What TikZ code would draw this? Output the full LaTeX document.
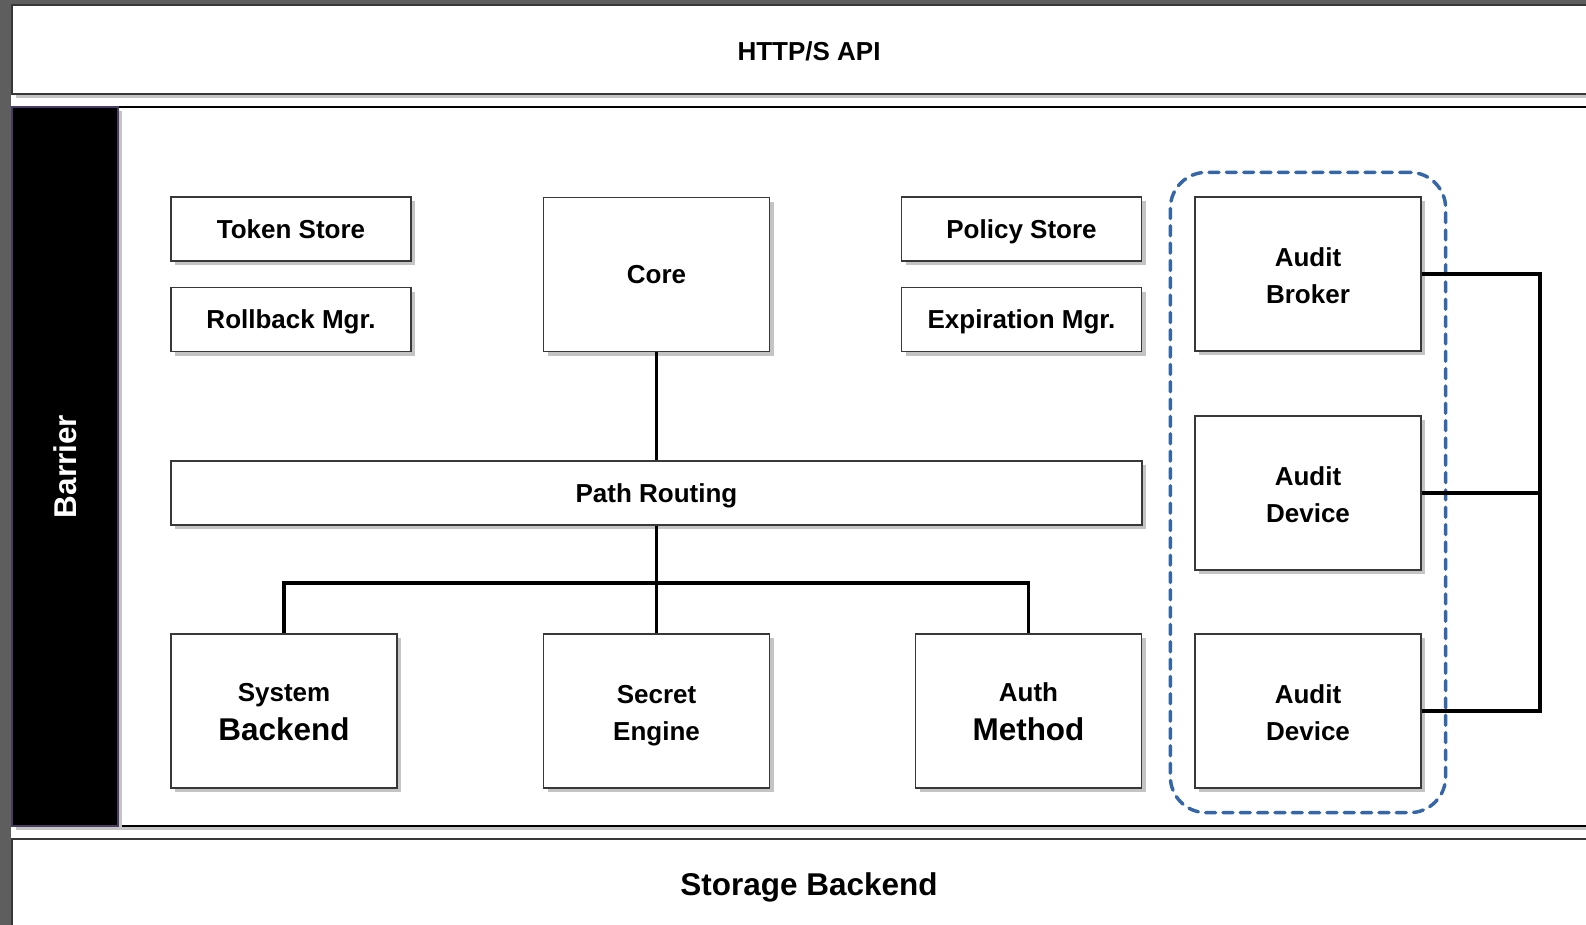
\documentclass[tikz,border=0pt]{standalone}
\usepackage{fontspec}
\setmainfont{Liberation Sans}
\usetikzlibrary{shadows,fit}

\definecolor{framegray}{HTML}{5E5E5E}
\definecolor{edgegray}{HTML}{383838}
\definecolor{shadegray}{HTML}{C4C4C4}
\definecolor{auditblue}{HTML}{3566A8}
\definecolor{barrierpurple}{HTML}{4A3B63}

\newcommand\compfont{\fontsize{19.5}{27.75}\selectfont\bfseries}
\newcommand\bigcompfont{\fontsize{23.6}{27}\selectfont\bfseries}
% struts that keep the caps centred in a box
\newcommand\topstrut{\rule[0pt]{0pt}{18.5pt}}
\newcommand\botstrut{\rule[-4.5pt]{0pt}{0pt}}
\newcommand\bigstrut{\rule[-5pt]{0pt}{26.9pt}}

\tikzset{every picture/.style={line width=0.75pt}}
\tikzset{
  dropshade/.style={general shadow={shadow xshift=3pt, shadow yshift=-3pt, fill=shadegray}},
  comp/.style={draw=edgegray, line width=1pt, fill=white, inner sep=0pt, align=center, font=\compfont, dropshade,
    execute at begin node=\topstrut, execute at end node=\botstrut},
  smallbox/.style={comp, minimum width=180pt, minimum height=48pt},
  tallbox/.style={comp, minimum width=169.5pt, minimum height=115.5pt, text height=44.4pt, text depth=0pt},
  layer/.style={draw=edgegray, line width=1.5pt, fill=white, inner sep=0pt, dropshade},
  link/.style={line width=2.8pt},
  auditgroup/.style={draw=auditblue, line width=2.6pt, line cap=round, dash pattern=on 7.5pt off 5.5pt, rounded corners=27pt, inner sep=18pt}
}

\begin{document}
\begin{tikzpicture}[x=0.75pt,y=0.75pt,yscale=-1,xscale=1]
	\useasboundingbox (0,0) rectangle (1586,925);
	\clip (0,0) rectangle (1586,925);
	\fill[white] (0,0) rectangle (1586,925);
	%Frame strips
	\fill[framegray] (0,0) rectangle (11,925);
	\fill[framegray] (0,0) rectangle (1586,4);
	
	%Layers
	\node[layer, minimum width=1195.5pt, minimum height=66.75pt, font=\compfont] (http) at (809,49.5) {\rule{0pt}{21.5pt}HTTP/S API\botstrut};
	\draw[layer, line width=1pt, draw=black] (118,107) rectangle (1606,826);
	\node[layer, fill=black, draw=barrierpurple, line width=1pt, rotate=90, minimum width=539.25pt, minimum height=79.5pt, text=white, font=\bigcompfont] (barrier) at (65,466.5) {Barrier};
	\node[layer, minimum width=1195.5pt, minimum height=67.5pt, font=\bigcompfont] (storage) at (809,884) {\bigstrut Storage Backend};
	
	%Stores and managers
	\node[smallbox] (tokenstore) at (291,229) {Token Store};
	\node[smallbox] (rollback) at (291,319.5) {Rollback Mgr.};
	\node[comp, minimum width=169.5pt, minimum height=115.5pt] (core) at (656.5,274.5) {Core};
	\node[smallbox] (policystore) at (1021.5,229) {Policy Store};
	\node[smallbox] (expiration) at (1021.5,319.5) {Expiration Mgr.};
	
	%Routing and backends
	\node[comp, minimum width=728.25pt, minimum height=48pt] (routing) at (656.5,493) {Path Routing};
	\node[tallbox] (system) at (284,711) {System\\[1.5pt]{\bigcompfont Backend}};
	\node[tallbox] (secret) at (656.5,711) {Secret\\Engine};
	\node[tallbox] (auth) at (1028.5,711) {Auth\\[1.5pt]{\bigcompfont Method}};
	
	%Audit
	\node[tallbox] (broker) at (1308,274) {Audit\\Broker};
	\node[tallbox] (device1) at (1308,493) {Audit\\Device};
	\node[tallbox] (device2) at (1308,711) {Audit\\Device};
	\node[auditgroup, fit=(broker)(device2)] (auditbox) {};
	
	%Connectors
	\coordinate (bus) at (656.5,583);
	\coordinate (auditbus) at (1540,493);
	\draw[link] (core.south) -- (routing.north);
	\draw[link] (routing.south) -- (secret.north);
	\draw[link] (system.north) |- (bus) -| (auth.north);
	\draw[link] (broker.east) -| (auditbus) |- (device2.east);
	\draw[link] (device1.east) -- (auditbus);
	
\end{tikzpicture}
\end{document}
